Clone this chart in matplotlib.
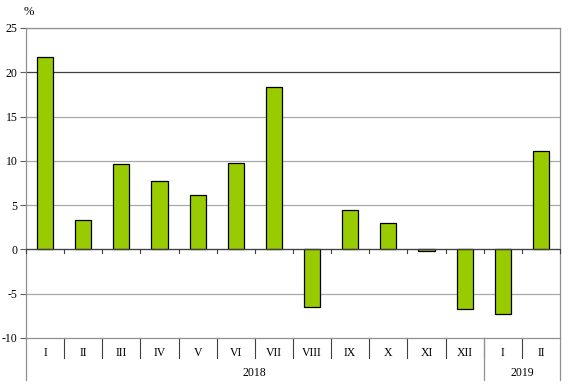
import numpy as np
import matplotlib.pyplot as plt
from matplotlib.ticker import FuncFormatter

# monthly change, %
months = ['I', 'II', 'III', 'IV', 'V', 'VI', 'VII', 'VIII', 'IX', 'X', 'XI', 'XII', 'I', 'II']
values = [21.7, 3.3, 9.6, 7.7, 6.2, 9.8, 18.3, -6.5, 4.5, 3.0, -0.2, -6.7, -7.3, 11.1]
years = ['2018', '2019']
year_counts = [12, 2]

plt.rcParams['font.family'] = ['Liberation Serif', 'DejaVu Serif']

fig = plt.figure(figsize=(5.68, 3.89), dpi=100)
ax = fig.add_axes([26 / 568, 1 - 338 / 389, 534 / 568, 310 / 389])

x = np.arange(len(values))
ax.bar(x, values, width=0.42, color='#99cc00', edgecolor='black', linewidth=0.9, zorder=3)

ax.set_xlim(-0.5, len(values) - 0.5)
ax.set_ylim(-10, 25)
ax.set_yticks(np.arange(-10, 26, 5))
ax.yaxis.set_major_formatter(FuncFormatter(lambda v, p: f'{int(v)}'.replace('\u2212', '-')))
ax.tick_params(axis='y', length=4, width=0.8, color='#606060', labelsize=8.5, pad=2)
ax.set_xticks([])

# gridlines
for v in range(-5, 26, 5):
    col = '#404040' if v == 20 else '#a8a8a8'
    ax.axhline(v, color=col, linewidth=0.9, zorder=1)
ax.axhline(0, color='#404040', linewidth=0.9, zorder=4)

for s in ax.spines.values():
    s.set_color('#909090')
    s.set_linewidth(0.9)

trans = ax.get_xaxis_transform()
# small ticks on zero line at category boundaries
y0 = (0 - (-10)) / 35
for b in np.arange(-0.5, len(values), 1.0):
    ax.plot([b, b], [y0, y0 - 4 / 310], transform=trans, color='#404040', lw=0.8, clip_on=False, zorder=4)

# category separators and labels below axis
for b in np.arange(0.5, len(values) - 1, 1.0):
    ax.plot([b, b], [0, -20 / 310], transform=trans, color='#404040', lw=0.8, clip_on=False)
for i, m in enumerate(months):
    ax.text(i, -15 / 310, m, transform=trans, ha='center', va='center', fontsize=8.5)

# year groups
ax.plot([-0.5, -0.5], [0, -42 / 310], transform=trans, color='#909090', lw=0.9, clip_on=False)
start = -0.5
for yr, n in zip(years, year_counts):
    end = start + n
    ax.plot([end, end], [0, -42 / 310], transform=trans, color='#909090', lw=0.9, clip_on=False)
    ax.text((start + end) / 2, -35 / 310, yr, transform=trans, ha='center', va='center', fontsize=8.5)
    start = end

fig.text(24 / 568, 1 - 12 / 389, '%', ha='left', va='center', fontsize=9)

fig.savefig('out.png', dpi=100)
